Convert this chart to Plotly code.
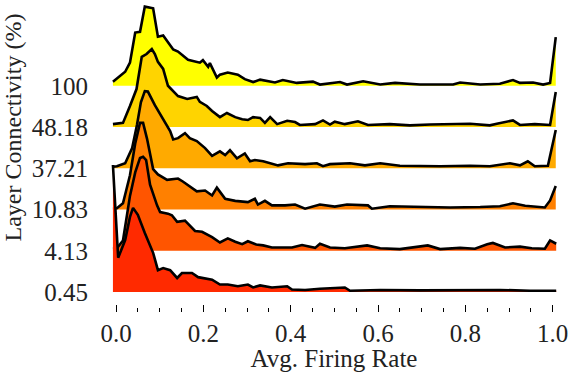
import plotly.graph_objects as go

# row labels (bottom to top) and fill colours
labels = ['0.45', '4.13', '10.83', '37.21', '48.18', '100']
colors = ['#FF2A00', '#FF5500', '#FF8000', '#FFAA00', '#FFD400', '#FFFF00']

# firing-rate positions and curve heights (in row units)
x_045 = [-0.007, 0.005, 0.021, 0.032, 0.039, 0.05, 0.066, 0.085, 0.096, 0.108, 0.124, 0.14, 0.151,
         0.174, 0.188, 0.204, 0.22, 0.238, 0.256, 0.279, 0.302, 0.314, 0.33, 0.357, 0.392, 0.403,
         0.433, 0.467, 0.524, 0.536, 0.605, 0.696, 0.788, 0.879, 0.948, 1.008]
h_045 = [3.08, 0.83, 1.26, 1.82, 2.04, 1.87, 1.43, 0.95, 0.53, 0.58, 0.53, 0.34, 0.46,
         0.46, 0.36, 0.33, 0.30, 0.18, 0.18, 0.14, 0.18, 0.11, 0.16, 0.11, 0.14, 0.06,
         0.05, 0.08, 0.11, 0.03, 0.05, 0.04, 0.04, 0.05, 0.03, 0.03]

x_413 = [-0.007, 0.002, 0.016, 0.032, 0.044, 0.055, 0.062, 0.069, 0.078, 0.085, 0.094, 0.101, 0.119,
         0.128, 0.14, 0.158, 0.181, 0.197, 0.22, 0.238, 0.256, 0.273, 0.289, 0.302, 0.321, 0.337,
         0.357, 0.403, 0.426, 0.456, 0.467, 0.49, 0.524, 0.575, 0.605, 0.65, 0.714, 0.742, 0.788,
         0.822, 0.85, 0.863, 0.891, 0.925, 0.952, 0.982, 0.994, 1.008]
h_413 = [0.05, 0.06, 0.25, 1.33, 1.90, 2.25, 2.28, 2.20, 1.60, 1.38, 1.10, 0.94, 0.90,
         0.86, 0.70, 0.73, 0.48, 0.46, 0.33, 0.20, 0.30, 0.22, 0.16, 0.23, 0.15, 0.13,
         0.08, 0.08, 0.14, 0.07, 0.17, 0.08, 0.06, 0.13, 0.06, 0.04, 0.13, 0.04, 0.07,
         0.05, 0.16, 0.19, 0.08, 0.10, 0.06, 0.05, 0.25, 0.17]

x_1083 = [-0.007, 0.002, 0.016, 0.032, 0.044, 0.055, 0.062, 0.071, 0.085, 0.096, 0.117, 0.142, 0.153,
          0.169, 0.185, 0.204, 0.22, 0.231, 0.25, 0.273, 0.302, 0.318, 0.325, 0.341, 0.357, 0.387,
          0.41, 0.433, 0.456, 0.467, 0.501, 0.529, 0.577, 0.586, 0.627, 0.696, 0.765, 0.834, 0.879,
          0.909, 0.937, 0.982, 0.994, 1.007]
h_1083 = [0.03, 0.03, 0.15, 0.83, 1.60, 2.10, 2.10, 1.72, 0.98, 0.85, 0.72, 0.75, 0.68,
          0.55, 0.44, 0.46, 0.34, 0.53, 0.26, 0.21, 0.18, 0.26, 0.12, 0.21, 0.10, 0.10,
          0.12, 0.02, 0.10, 0.12, 0.07, 0.12, 0.10, 0.02, 0.08, 0.06, 0.05, 0.06, 0.08,
          0.15, 0.09, 0.05, 0.22, 0.57]

x_3721 = [-0.007, 0.002, 0.021, 0.037, 0.048, 0.057, 0.066, 0.073, 0.089, 0.108, 0.124, 0.131, 0.142,
          0.158, 0.169, 0.185, 0.204, 0.22, 0.238, 0.25, 0.261, 0.277, 0.295, 0.307, 0.318, 0.337,
          0.371, 0.394, 0.433, 0.46, 0.474, 0.49, 0.536, 0.57, 0.605, 0.65, 0.696, 0.742, 0.811,
          0.856, 0.902, 0.925, 0.943, 0.959, 0.989, 1.007]
h_3721 = [0.04, 0.05, 0.12, 0.49, 1.05, 1.60, 1.87, 1.86, 1.53, 1.20, 0.90, 0.70, 0.73,
          0.85, 0.73, 0.66, 0.49, 0.30, 0.41, 0.32, 0.44, 0.24, 0.36, 0.17, 0.20, 0.17,
          0.07, 0.12, 0.10, 0.12, 0.05, 0.10, 0.12, 0.07, 0.12, 0.06, 0.05, 0.05, 0.06,
          0.05, 0.12, 0.07, 0.17, 0.05, 0.06, 0.93]

x_4818 = [-0.007, 0.016, 0.032, 0.047, 0.059, 0.07, 0.082, 0.089, 0.096, 0.108, 0.119, 0.142, 0.163,
          0.185, 0.192, 0.208, 0.22, 0.238, 0.254, 0.273, 0.289, 0.302, 0.314, 0.33, 0.341, 0.353,
          0.369, 0.392, 0.41, 0.421, 0.456, 0.474, 0.49, 0.501, 0.524, 0.554, 0.577, 0.627, 0.673,
          0.719, 0.811, 0.856, 0.872, 0.909, 0.925, 0.959, 0.994, 1.007]
h_4818 = [0.07, 0.10, 0.51, 0.92, 1.70, 1.77, 1.89, 1.77, 1.58, 1.41, 1.00, 0.75, 0.68,
          0.73, 0.61, 0.51, 0.39, 0.24, 0.34, 0.24, 0.19, 0.17, 0.24, 0.22, 0.10, 0.24,
          0.07, 0.15, 0.12, 0.05, 0.07, 0.16, 0.06, 0.13, 0.07, 0.14, 0.05, 0.07, 0.04,
          0.06, 0.08, 0.04, 0.08, 0.16, 0.05, 0.07, 0.05, 0.85]

x_100 = [-0.007, 0.021, 0.032, 0.044, 0.055, 0.066, 0.085, 0.096, 0.108, 0.131, 0.142, 0.165, 0.192,
         0.199, 0.211, 0.215, 0.231, 0.238, 0.256, 0.279, 0.295, 0.314, 0.33, 0.348, 0.364, 0.382,
         0.398, 0.414, 0.451, 0.467, 0.513, 0.529, 0.566, 0.605, 0.639, 0.696, 0.772, 0.788, 0.834,
         0.879, 0.909, 0.925, 0.955, 0.978, 0.994, 1.007]
h_100 = [0.10, 0.34, 0.56, 1.29, 1.31, 1.92, 1.88, 1.19, 1.22, 0.88, 0.83, 0.63, 0.56,
         0.62, 0.46, 0.55, 0.20, 0.27, 0.32, 0.27, 0.16, 0.09, 0.15, 0.11, 0.08, 0.14,
         0.11, 0.07, 0.10, 0.03, 0.09, 0.03, 0.11, 0.03, 0.07, 0.03, 0.03, 0.08, 0.03,
         0.05, 0.14, 0.07, 0.08, 0.03, 0.07, 1.18]

xs = [x_045, x_413, x_1083, x_3721, x_4818, x_100]
hs = [h_045, h_413, h_1083, h_3721, h_4818, h_100]

fig = go.Figure()

# draw the top row first so that the lower rows sit in front
for i in reversed(range(len(labels))):
    x = xs[i]
    y = [i + v for v in hs[i]]
    fig.add_trace(go.Scatter(x=[x[0]] + x + [x[-1]], y=[i] + y + [i], fill='toself',
                             fillcolor=colors[i], mode='lines', line=dict(width=0),
                             hoverinfo='skip', showlegend=False))
    fig.add_trace(go.Scatter(x=x, y=y, mode='lines', line=dict(color='black', width=2.6),
                             showlegend=False))

font = dict(family='Liberation Serif', size=25, color='#222')

fig.update_xaxes(range=[-0.0206, 1.019], showgrid=False, zeroline=False, showline=False,
                 tickvals=[0, 0.2, 0.4, 0.6, 0.8, 1.0], tickformat='.1f',
                 ticks='inside', ticklen=7, tickwidth=1, tickcolor='black',
                 minor=dict(dtick=0.05, tick0=0, ticks='inside', ticklen=4, tickwidth=1, tickcolor='black'),
                 tickfont=font, ticklabelstandoff=4, ticklabeloverflow='allow',
                 title=dict(text='Avg. Firing Rate', font=font, standoff=2))
fig.update_yaxes(range=[-0.485, 7.08], showgrid=False, zeroline=False, showline=False,
                 tickvals=list(range(len(labels))), ticktext=labels, ticks='',
                 tickfont=font, ticklabelstandoff=18)

fig.add_annotation(text='Layer Connectivity (%)', textangle=-90, xref='paper', yref='paper',
                   x=-0.208, y=0.59, xanchor='center', yanchor='middle', showarrow=False,
                   font=dict(family='Liberation Serif', size=24, color='#222'))

fig.update_layout(width=568, height=372, margin=dict(l=107, r=7, t=0, b=60),
                  plot_bgcolor='white', paper_bgcolor='white')

# drop the page's default body margin so the figure starts at the window's corner
fig.write_html('out.html', config={'displayModeBar': False},
               post_script="document.body.style.margin='0';")
